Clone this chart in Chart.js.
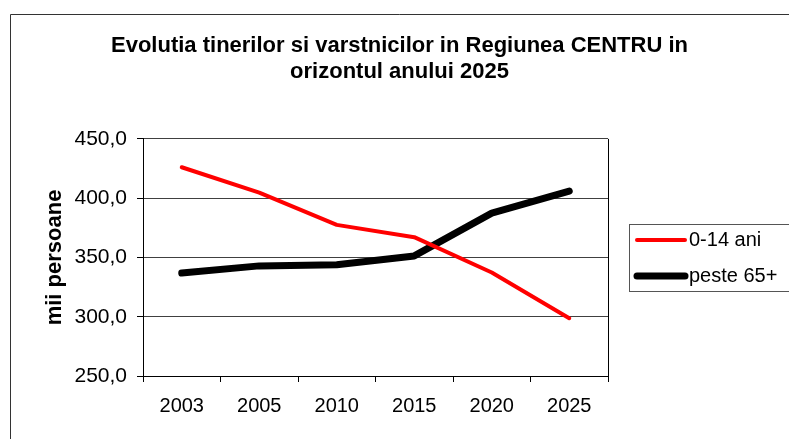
<!DOCTYPE html>
<html>
<head>
<meta charset="utf-8">
<title>Evolutia tinerilor si varstnicilor - Regiunea CENTRU</title>
<script src="https://cdn.jsdelivr.net/npm/chart.js@4/dist/chart.umd.min.js"></script>
<style>
    html, body { margin: 0; padding: 0; background: #fff; }
    #chart { display: block; }
</style>
</head>
<body>
<canvas id="chart" width="789" height="439"></canvas>
<script>
// Data
const years = ['2003', '2005', '2010', '2015', '2020', '2025'];
const youth = [426.1, 404.7, 377.5, 367.1, 337.3, 298.8];    // 0-14 ani
const elderly = [336.8, 342.9, 343.8, 351.3, 387.4, 406.0];  // peste 65+
const seriesLabels = ['0-14 ani', 'peste 65+'];
const yMin = 250;
const yMax = 450;
const yStep = 50;
const titleLines = ['Evolutia tinerilor si varstnicilor in Regiunea CENTRU in', 'orizontul anului 2025'];
const yTitle = 'mii persoane';

const FONT = '"Liberation Sans", Arial, sans-serif';
Chart.defaults.font.family = FONT;
Chart.defaults.color = '#000';

// White page, outer frame, right edge of plot area
const framePlugin = {
    id: 'frame',
    beforeDraw(chart) {
        const ctx = chart.ctx;
        ctx.save();
        ctx.fillStyle = '#fff';
        ctx.fillRect(0, 0, chart.width, chart.height);
        ctx.strokeStyle = '#333';
        ctx.lineWidth = 1;
        ctx.beginPath();
        ctx.moveTo(10.5, chart.height);
        ctx.lineTo(10.5, 14.5);
        ctx.lineTo(chart.width, 14.5);
        ctx.stroke();
        ctx.restore();
    },
    beforeDatasetsDraw(chart) {
        const a = chart.chartArea;
        const ctx = chart.ctx;
        ctx.save();
        ctx.strokeStyle = '#000';
        ctx.lineWidth = 1;
        ctx.beginPath();
        ctx.moveTo(Math.round(a.right) + 0.5, a.top);
        ctx.lineTo(Math.round(a.right) + 0.5, a.bottom + 6);
        ctx.stroke();
        ctx.restore();
    }
};

// Legend box on the right, built from the datasets
const legendBoxPlugin = {
    id: 'legendBox',
    afterDraw(chart) {
        const ctx = chart.ctx;
        ctx.save();
        ctx.strokeStyle = '#555';
        ctx.lineWidth = 1;
        ctx.strokeRect(629.5, 224.5, 200, 67);
        ctx.font = '20px ' + FONT;
        ctx.textBaseline = 'middle';
        ctx.textAlign = 'left';
        chart.data.datasets.forEach((ds, i) => {
            const y = 240 + i * 36;
            ctx.strokeStyle = ds.borderColor;
            ctx.lineWidth = ds.borderWidth;
            ctx.lineCap = 'round';
            ctx.beginPath();
            ctx.moveTo(637, y);
            ctx.lineTo(685, y);
            ctx.stroke();
            ctx.fillStyle = '#000';
            ctx.fillText(ds.label, 689, y);
        });
        ctx.restore();
    }
};

new Chart(document.getElementById('chart'), {
    type: 'line',
    data: {
        labels: years,
        datasets: [{
            label: seriesLabels[0],
            data: youth,
            borderColor: '#ff0000',
            borderWidth: 4,
            pointRadius: 0,
            tension: 0,
            borderJoinStyle: 'round',
            borderCapStyle: 'round'
        }, {
            label: seriesLabels[1],
            data: elderly,
            borderColor: '#000000',
            borderWidth: 7,
            pointRadius: 0,
            tension: 0,
            borderJoinStyle: 'round',
            borderCapStyle: 'round'
        }]
    },
    options: {
        responsive: false,
        animation: false,
        devicePixelRatio: 1,
        layout: { padding: { left: 10, top: 0, right: 0, bottom: 0 } },
        plugins: {
            legend: { display: false },
            tooltip: { enabled: false },
            title: {
                display: true,
                text: titleLines,
                color: '#000',
                font: { size: 22, weight: 'bold', lineHeight: 1.18 },
                padding: { top: 33, bottom: 54 }
            }
        },
        scales: {
            x: {
                offset: true,
                ticks: { color: '#000', font: { size: 20 }, padding: 12, maxRotation: 0, autoSkip: false },
                grid: { offset: true, drawOnChartArea: false, tickLength: 6, color: '#000' },
                border: { color: '#000', width: 1 },
                afterFit: s => { s.height = 63; }
            },
            y: {
                min: yMin,
                max: yMax,
                ticks: {
                    stepSize: yStep,
                    color: '#000',
                    font: { size: 21 },
                    padding: 10,
                    callback: v => v.toFixed(1).replace('.', ',')
                },
                grid: { color: '#404040', lineWidth: 1, tickLength: 6, tickColor: '#000' },
                border: { color: '#000', width: 1 },
                title: {
                    display: true,
                    text: yTitle,
                    color: '#000',
                    font: { size: 22, weight: 'bold' },
                    padding: { top: 32, bottom: 0 }
                },
                afterFit: s => { s.width = 133; }
            },
            // empty right-hand axis that only reserves room for the legend
            y2: {
                position: 'right',
                display: true,
                grid: { display: false },
                ticks: { display: false },
                border: { display: false },
                afterFit: s => { s.width = 181; }
            }
        }
    },
    plugins: [framePlugin, legendBoxPlugin]
});
</script>
</body>
</html>
